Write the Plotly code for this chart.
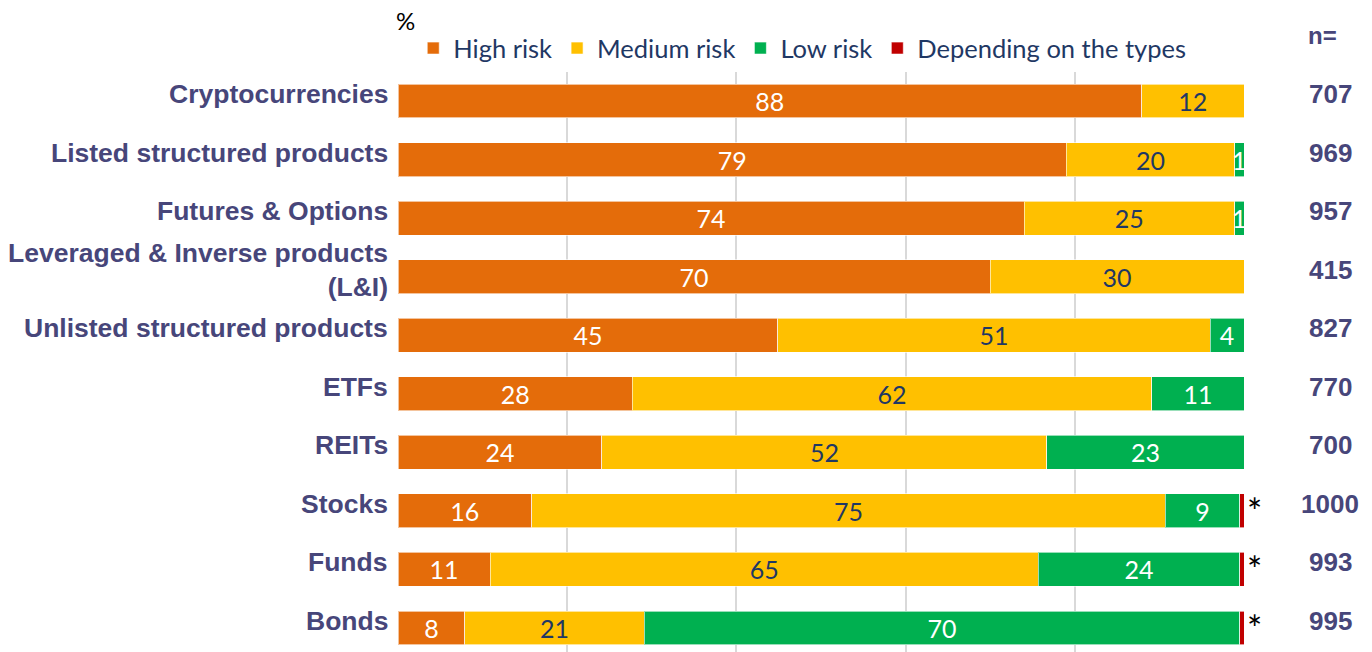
import plotly.graph_objects as go

categories = ["Cryptocurrencies", "Listed structured products", "Futures & Options",
              "Leveraged & Inverse products<br>(L&I)", "Unlisted structured products",
              "ETFs", "REITs", "Stocks", "Funds", "Bonds"]
n_values = ["707", "969", "957", "415", "827", "770", "700", "1000", "993", "995"]

high = [87.9, 79.0, 74.0, 70.0, 44.9, 27.7, 24.1, 15.8, 10.9, 7.9]
medium = [12.1, 19.9, 24.9, 30.0, 51.1, 61.4, 52.6, 74.9, 64.8, 21.2]
low = [0.0, 1.1, 1.1, 0.0, 4.0, 10.9, 23.3, 8.8, 23.8, 70.4]
depending = [0.0, 0.0, 0.0, 0.0, 0.0, 0.0, 0.0, 0.5, 0.5, 0.5]

high_lbl = ["88", "79", "74", "70", "45", "28", "24", "16", "11", "8"]
medium_lbl = ["12", "20", "25", "30", "51", "62", "52", "75", "65", "21"]
low_lbl = ["", "1", "1", "", "4", "11", "23", "9", "24", "70"]
depending_lbl = ["", "", "", "", "", "", "", "*", "*", "*"]

series = [
    ("High risk", high, high_lbl, "#E46C0A", "white"),
    ("Medium risk", medium, medium_lbl, "#FFC000", "#1F3864"),
    ("Low risk", low, low_lbl, "#00B050", "white"),
    ("Depending on the types", depending, depending_lbl, "#C00000", "black"),
]

ypos = list(range(len(categories)))[::-1]  # Cryptocurrencies at top

fig = go.Figure()
for name, vals, lbls, color, tcolor in series:
    outside = name.startswith("Depending")
    fig.add_trace(go.Bar(
        y=ypos, x=vals, orientation="h", name=name,
        marker=dict(color=color, line=dict(color="rgba(255,255,255,0.6)", width=1)),
        text=lbls,
        textposition="outside" if outside else "inside",
        textangle=0,
        insidetextanchor="middle",
        constraintext="none",
        cliponaxis=False,
        textfont=dict(family="Lato, 'Open Sans', sans-serif", size=25, color=tcolor),
        outsidetextfont=dict(family="Lato, sans-serif", size=36, color="black"),
        hoverinfo="x+name",
    ))

label_color = "#47467A"
annotations = []
for i, cat in enumerate(categories):
    annotations.append(dict(
        x=0, xref="paper", y=ypos[i], yref="y", text="<b>%s</b>" % cat,
        xanchor="right", yanchor="middle", align="right", xshift=-8, yshift=7,
        showarrow=False,
        font=dict(family="Liberation Sans, Arial, sans-serif", size=26.5, color=label_color),
    ))
    annotations.append(dict(
        x=1, xref="paper", y=ypos[i], yref="y", text="<b>%s</b>" % n_values[i],
        xanchor="center", yanchor="middle", xshift=86, yshift=7,
        showarrow=False,
        font=dict(family="Liberation Sans, Arial, sans-serif", size=26, color=label_color),
    ))
annotations.append(dict(
    x=1, xref="paper", y=1, yref="paper", text="<b>n=</b>",
    xanchor="center", yanchor="middle", xshift=78, yshift=37, showarrow=False,
    font=dict(family="Liberation Sans, Arial, sans-serif", size=24, color=label_color),
))
annotations.append(dict(
    x=0, xref="paper", y=1, yref="paper", text="%",
    xanchor="left", yanchor="middle", xshift=-4, yshift=52, showarrow=False,
    font=dict(family="Lato, sans-serif", size=24, color="black"),
))

fig.update_layout(
    width=1372, height=652,
    margin=dict(l=398, r=128, t=72, b=0),
    barmode="stack", bargap=0.42,
    plot_bgcolor="white", paper_bgcolor="white",
    showlegend=True,
    legend=dict(orientation="h", x=0.018, xanchor="left", y=1.0, yanchor="bottom",
                font=dict(family="Lato, sans-serif", size=25.5, color="#1F3864"),
                traceorder="normal", itemclick=False),
    xaxis=dict(range=[0, 100], tickvals=[0, 20, 40, 60, 80, 100], showticklabels=False,
               showgrid=True, gridcolor="#D9D9D9", gridwidth=2, zeroline=False, fixedrange=True),
    yaxis=dict(range=[-0.41, 9.495], showticklabels=False, showgrid=False, zeroline=False,
               fixedrange=True),
    annotations=annotations,
)

fig.write_html("out.html")
